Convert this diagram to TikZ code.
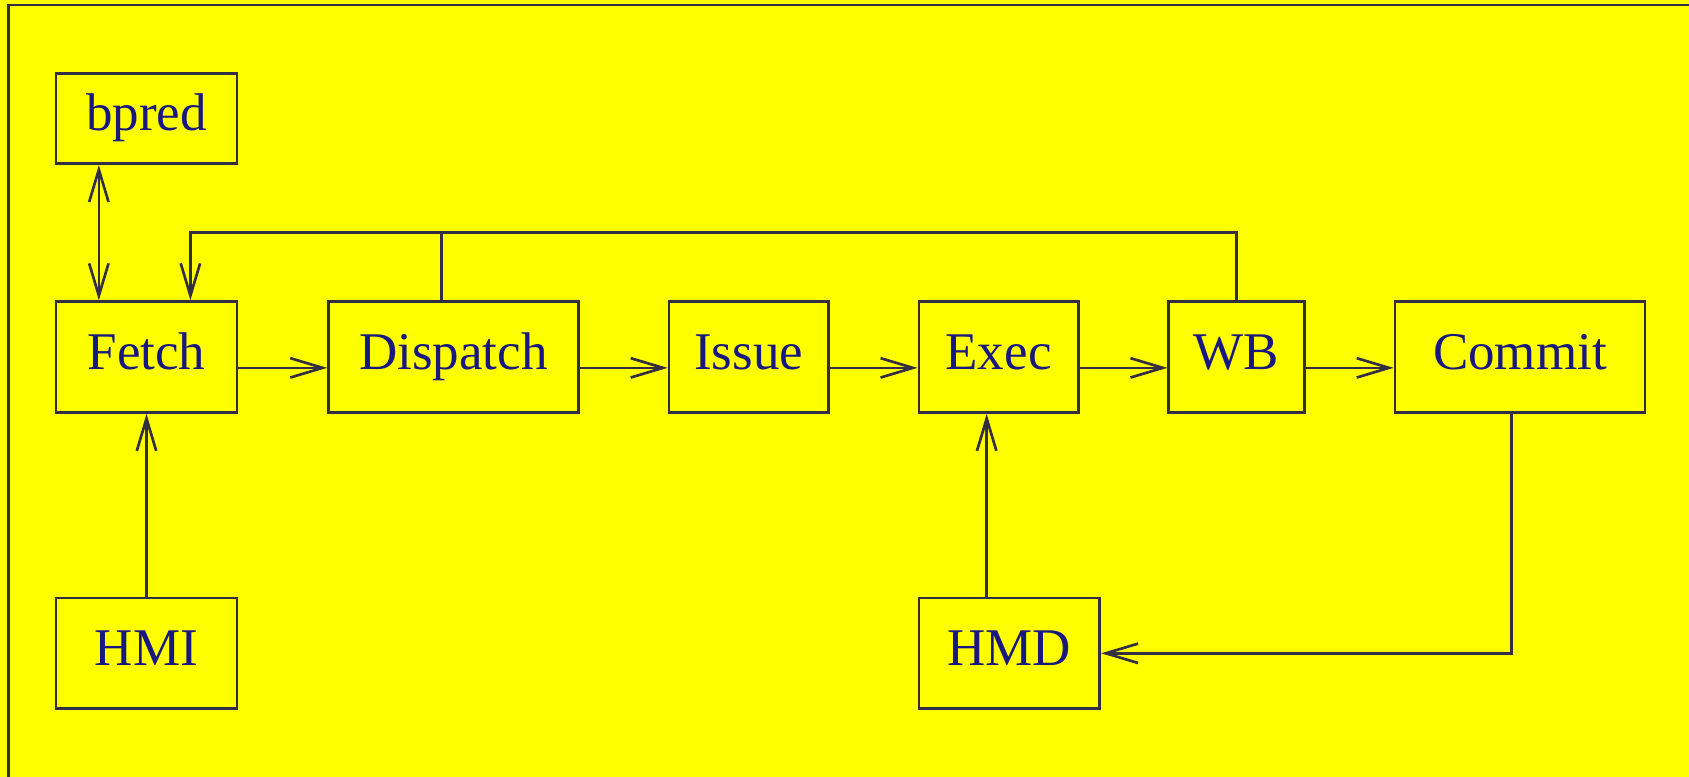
\documentclass[tikz,border=0pt]{standalone}
\usepackage{fontspec}
\setmainfont{Liberation Serif}
\usetikzlibrary{math,arrows.meta}

\definecolor{figyellow}{RGB}{255,255,0}
\definecolor{figline}{RGB}{52,46,66}
\definecolor{figtext}{RGB}{24,24,128}

\begin{document}
\begin{tikzpicture}[
  >={Straight Barb[length=3mm,width=1.8mm]},
  stage/.style={draw=figline, line width=0.7pt, inner sep=0pt,
    minimum height=1.03cm, text=figtext, font=\fontsize{14}{16}\selectfont,
    text height=0.33cm, text depth=0.1cm},
  wire/.style={draw=figline, line width=0.7pt},
  flow/.style={wire, ->}
]
  \tikzmath{\rowa = 3.895;}
  \tikzmath{\rowb = 1.145;}

  \fill[figyellow] (0,0) rectangle (15.68,7.21);
  \useasboundingbox (0,0) rectangle (15.68,7.21);
  \draw[wire] (0.077,0) -- (0.077,7.164) -- (15.68,7.164);

  % pipeline stages
  \node[stage, minimum width=1.68cm] (fetch) at (1.36, \rowa) {Fetch};
  \node[stage, minimum width=2.32cm] (dispatch) at (4.21, \rowa) {Dispatch};
  \node[stage, minimum width=1.48cm] (issue) at (6.95, \rowa) {Issue};
  \node[stage, minimum width=1.48cm] (exec) at (9.27, \rowa) {Exec};
  \node[stage, minimum width=1.26cm] (wb) at (11.48, \rowa) {WB};
  \node[stage, minimum width=2.32cm] (commit) at (14.11, \rowa) {Commit};

  % branch predictor
  \node[stage, minimum width=1.68cm, minimum height=0.84cm] (bpred) at (1.36, 6.11) {bpred};

  % hit/miss boxes
  \node[stage, minimum width=1.68cm] (hmi) at (1.36, \rowb) {HMI};
  \node[stage, minimum width=1.68cm] (hmd) at (9.37, \rowb) {HMD};

  % stage to stage
  \draw[flow] ([yshift=-1mm]fetch.east) -- ([yshift=-1mm]dispatch.west);
  \draw[flow] ([yshift=-1mm]dispatch.east) -- ([yshift=-1mm]issue.west);
  \draw[flow] ([yshift=-1mm]issue.east) -- ([yshift=-1mm]exec.west);
  \draw[flow] ([yshift=-1mm]exec.east) -- ([yshift=-1mm]wb.west);
  \draw[flow] ([yshift=-1mm]wb.east) -- ([yshift=-1mm]commit.west);

  % bpred <-> fetch
  \draw[wire, <->] ([xshift=4.1mm]bpred.south west) -- ([xshift=4.1mm]fetch.north west);

  % wb feedback to fetch and dispatch
  \coordinate (fb) at ([yshift=6.3mm]wb.north);
  \coordinate (fbin) at ([xshift=12.6mm]fetch.north west);
  \coordinate (dpin) at ([xshift=-1.1mm]dispatch.north);
  \draw[flow] (wb.north) -- (fb) -- (fbin |- fb) -- (fbin);
  \draw[wire] (dpin) -- (dpin |- fb);

  % HMI into fetch
  \draw[flow] (hmi.north) -- (fetch.south);

  % HMD into exec
  \coordinate (exin) at ([xshift=-1.1mm]exec.south);
  \draw[flow] (hmd.north -| exin) -- (exin);

  % commit to HMD
  \draw[flow] ([xshift=-0.8mm]commit.south) |- (hmd.east);
\end{tikzpicture}
\end{document}
